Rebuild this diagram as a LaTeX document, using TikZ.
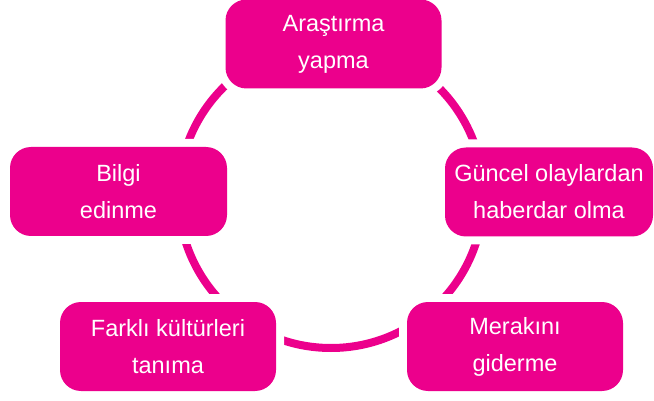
\documentclass[tikz,border=0pt]{standalone}
\usepackage{fontspec}
\setmainfont{Liberation Sans}
\definecolor{mag}{RGB}{236,0,140}
\begin{document}
\begin{tikzpicture}[x=1pt,y=-1pt,
  box/.style={rectangle, rounded corners=21pt, fill=mag, text=white, inner sep=0pt,
    minimum width=216pt, minimum height=89pt, align=center,
    font=\fontsize{23.5}{37}\selectfont,
    preaction={draw=white, line width=16pt}},
  ring/.style={draw=mag, line width=8pt}]
\useasboundingbox (0,0) rectangle (654,401);
\coordinate (c) at (331,195.5);
\draw[ring] (c) circle[radius=152.5pt];
\node[box] (top) at (333.5,44) {Araştırma\\yapma};
\node[box, minimum width=208pt] (right) at (549,192) {Güncel olaylardan\\haberdar olma};
\node[box] (br) at (515,346.5) {Merakını\\giderme};
\node[box] (bl) at (168,346.5) {Farklı kültürleri\\tanıma};
\node[box, minimum width=217pt] (left) at (118.5,191.5) {Bilgi\\edinme};
\end{tikzpicture}
\end{document}
